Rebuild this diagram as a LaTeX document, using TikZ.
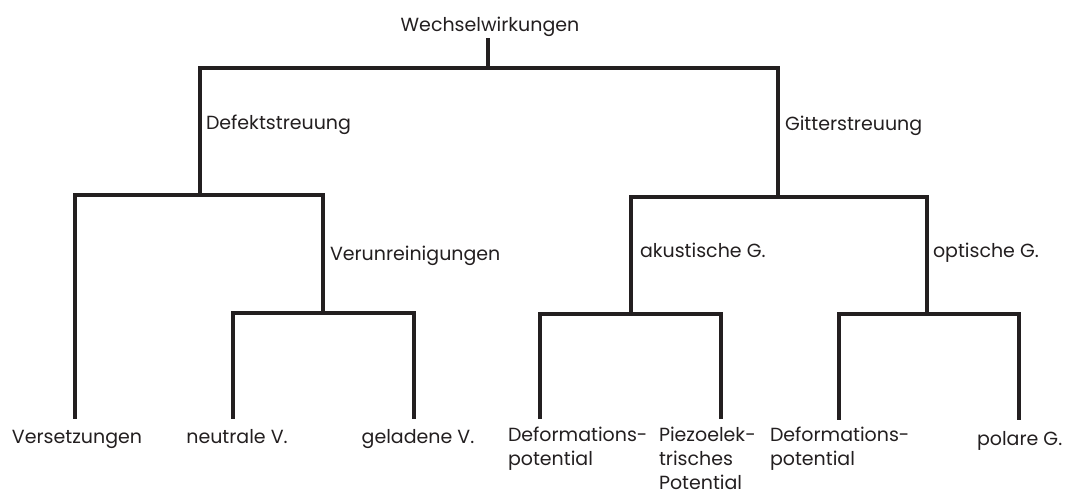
\documentclass[tikz,border=0pt]{standalone}
\usepackage{fontspec}
\setmainfont{Poppins}
\definecolor{ink}{HTML}{231F20}
\newcommand{\stacklines}[1]{\vtop{\baselineskip=24pt\halign{##\hfil\cr#1\crcr}}}
\begin{document}
\begin{tikzpicture}[x=1pt,y=-1pt,
  lbl/.style={inner sep=0pt,outer sep=0pt,text=ink,font=\fontsize{19}{24}\selectfont},
  lblw/.style={lbl,anchor=base west},
  lblc/.style={lbl,anchor=base},
  branch/.style={draw=ink,line width=3.1pt,line cap=rect}]
\useasboundingbox[fill=white] (0,0) rectangle (1069,495);
% labels
\node[lblc] (wech) at (490,32) {Wechselwirkungen};
\node[lblw] (defekt) at (206,129) {Defektstreuung};
\node[lblw] (gitter) at (785,130) {Gitterstreuung};
\node[lblw] (verun) at (330,260) {Verunreinigungen};
\node[lblw] (akust) at (640,257) {akustische G.};
\node[lblw] (opt) at (933,257) {optische G.};
\node[lblc] (vers) at (77,443) {Versetzungen};
\node[lblc] (neutr) at (237,443) {neutrale V.};
\node[lblc] (gelad) at (418,443) {geladene V.};
\node[lblw] (defa) at (508,441) {\stacklines{Deformations-\cr potential}};
\node[lblw] (piezo) at (659,441) {\stacklines{Piezoelek-\cr trisches\cr Potential}};
\node[lblw] (defo) at (770,441) {\stacklines{Deformations-\cr potential}};
\node[lblw] (polar) at (977,445) {polare G.};
% junction coordinates
\coordinate (root) at (488,40);
\coordinate (j0) at (488,68);
\coordinate (jD) at (200,195);
\coordinate (jG) at (778,197);
\coordinate (lVers) at (75,417);
\coordinate (jV) at (323,313);
\coordinate (lNeutr) at (233,417);
\coordinate (lGelad) at (414,417);
\coordinate (jA) at (631,314);
\coordinate (jO) at (927,314);
\coordinate (lDefa) at (540,417);
\coordinate (lPiezo) at (721,417);
\coordinate (lDefo) at (839,418);
\coordinate (lPolar) at (1019,418);
% connectors
\draw[branch] (root) -- (j0);
\draw[branch] (jD) |- (j0) -| (jG);
\draw[branch] (lVers) |- (jD) -| (jV);
\draw[branch] (lNeutr) |- (jV) -| (lGelad);
\draw[branch] (jA) |- (jG) -| (jO);
\draw[branch] (lDefa) |- (jA) -| (lPiezo);
\draw[branch] (lDefo) |- (jO) -| (lPolar);
\end{tikzpicture}
\end{document}
